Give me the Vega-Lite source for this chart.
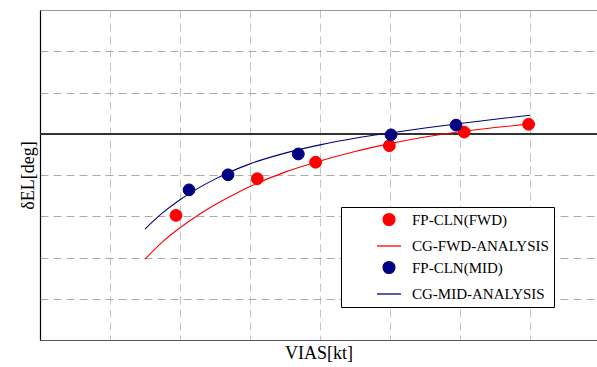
{
  "$schema": "https://vega.github.io/schema/vega-lite/v6.json",
  "width": 557,
  "height": 330,
  "autosize": {"type": "none"},
  "padding": {"left": 40, "top": 10, "right": 0, "bottom": 27},
  "background": "white",
  "config": {"view": {"stroke": null}, "font": "Liberation Serif"},
  "data": {
    "values": [
      {"v": 1.5, "d": -3.04, "series": "CG-FWD-ANALYSIS", "kind": "line"},
      {"v": 1.75, "d": -2.62, "series": "CG-FWD-ANALYSIS", "kind": "line"},
      {"v": 2.0, "d": -2.28, "series": "CG-FWD-ANALYSIS", "kind": "line"},
      {"v": 2.25, "d": -1.98, "series": "CG-FWD-ANALYSIS", "kind": "line"},
      {"v": 2.5, "d": -1.72, "series": "CG-FWD-ANALYSIS", "kind": "line"},
      {"v": 2.75, "d": -1.49, "series": "CG-FWD-ANALYSIS", "kind": "line"},
      {"v": 3.0, "d": -1.28, "series": "CG-FWD-ANALYSIS", "kind": "line"},
      {"v": 3.5, "d": -0.93, "series": "CG-FWD-ANALYSIS", "kind": "line"},
      {"v": 4.0, "d": -0.66, "series": "CG-FWD-ANALYSIS", "kind": "line"},
      {"v": 4.5, "d": -0.43, "series": "CG-FWD-ANALYSIS", "kind": "line"},
      {"v": 5.0, "d": -0.24, "series": "CG-FWD-ANALYSIS", "kind": "line"},
      {"v": 5.5, "d": -0.08, "series": "CG-FWD-ANALYSIS", "kind": "line"},
      {"v": 6.0, "d": 0.05, "series": "CG-FWD-ANALYSIS", "kind": "line"},
      {"v": 6.5, "d": 0.15, "series": "CG-FWD-ANALYSIS", "kind": "line"},
      {"v": 7.0, "d": 0.24, "series": "CG-FWD-ANALYSIS", "kind": "line"},
      {"v": 1.5, "d": -2.31, "series": "CG-MID-ANALYSIS", "kind": "line"},
      {"v": 1.75, "d": -1.92, "series": "CG-MID-ANALYSIS", "kind": "line"},
      {"v": 2.0, "d": -1.6, "series": "CG-MID-ANALYSIS", "kind": "line"},
      {"v": 2.25, "d": -1.33, "series": "CG-MID-ANALYSIS", "kind": "line"},
      {"v": 2.5, "d": -1.1, "series": "CG-MID-ANALYSIS", "kind": "line"},
      {"v": 2.75, "d": -0.9, "series": "CG-MID-ANALYSIS", "kind": "line"},
      {"v": 3.0, "d": -0.73, "series": "CG-MID-ANALYSIS", "kind": "line"},
      {"v": 3.5, "d": -0.47, "series": "CG-MID-ANALYSIS", "kind": "line"},
      {"v": 4.0, "d": -0.27, "series": "CG-MID-ANALYSIS", "kind": "line"},
      {"v": 4.5, "d": -0.11, "series": "CG-MID-ANALYSIS", "kind": "line"},
      {"v": 5.0, "d": 0.02, "series": "CG-MID-ANALYSIS", "kind": "line"},
      {"v": 5.5, "d": 0.14, "series": "CG-MID-ANALYSIS", "kind": "line"},
      {"v": 6.0, "d": 0.25, "series": "CG-MID-ANALYSIS", "kind": "line"},
      {"v": 6.5, "d": 0.35, "series": "CG-MID-ANALYSIS", "kind": "line"},
      {"v": 7.0, "d": 0.45, "series": "CG-MID-ANALYSIS", "kind": "line"},
      {"v": 1.943, "d": -1.98, "series": "FP-CLN(FWD)", "kind": "point"},
      {"v": 3.104, "d": -1.09, "series": "FP-CLN(FWD)", "kind": "point"},
      {"v": 3.937, "d": -0.69, "series": "FP-CLN(FWD)", "kind": "point"},
      {"v": 4.99, "d": -0.29, "series": "FP-CLN(FWD)", "kind": "point"},
      {"v": 6.06, "d": 0.04, "series": "FP-CLN(FWD)", "kind": "point"},
      {"v": 6.98, "d": 0.23, "series": "FP-CLN(FWD)", "kind": "point"},
      {"v": 2.129, "d": -1.36, "series": "FP-CLN(MID)", "kind": "point"},
      {"v": 2.686, "d": -0.995, "series": "FP-CLN(MID)", "kind": "point"},
      {"v": 3.69, "d": -0.49, "series": "FP-CLN(MID)", "kind": "point"},
      {"v": 5.014, "d": -0.027, "series": "FP-CLN(MID)", "kind": "point"},
      {"v": 5.943, "d": 0.21, "series": "FP-CLN(MID)", "kind": "point"}
    ]
  },
  "layer": [
    {
      "mark": {"type": "rule", "color": "#333333", "strokeWidth": 1.3},
      "encoding": {"y": {"datum": 0, "type": "quantitative"}}
    },
    {
      "transform": [{"filter": "datum.kind == 'line'"}],
      "mark": {"type": "line", "strokeWidth": 1.1, "interpolate": "monotone"},
      "encoding": {
        "x": {
          "field": "v", "type": "quantitative",
          "scale": {"domain": [0, 7.957], "nice": false, "zero": false},
          "axis": {
            "values": [1, 2, 3, 4, 5, 6, 7], "labels": false, "ticks": false,
            "grid": true, "gridDash": [8, 5], "gridColor": "#c4c4c4", "gridWidth": 1,
            "domainColor": "#555555", "domainWidth": 1.2,
            "title": "VIAS[kt]", "titleFont": "Liberation Serif, Times New Roman, serif", "titleFontSize": 18,
            "titleFontWeight": "normal", "titleColor": "black", "titlePadding": 4
          }
        },
        "y": {
          "field": "d", "type": "quantitative",
          "scale": {"domain": [-5, 3], "nice": false, "zero": false},
          "axis": {
            "values": [-5, -4, -3, -2, -1, 0, 1, 2, 3], "labels": false, "ticks": false,
            "grid": true,
            "gridDash": {"condition": {"test": "datum.value == 3", "value": []}, "value": [8, 5]},
            "gridColor": {"condition": {"test": "datum.value == 3", "value": "#999999"}, "value": "#aaaaaa"},
            "domainColor": "black", "domainWidth": 1.2,
            "title": "δEL[deg]", "titleFont": "Liberation Serif, Times New Roman, serif", "titleFontSize": 18,
            "titleFontWeight": "normal", "titleColor": "black", "titlePadding": 3
          }
        },
        "stroke": {
          "field": "series", "type": "nominal",
          "scale": {
            "domain": ["FP-CLN(FWD)", "CG-FWD-ANALYSIS", "FP-CLN(MID)", "CG-MID-ANALYSIS"],
            "range": ["#ff0000", "#ff0000", "#000080", "#000080"]
          },
          "legend": {
            "orient": "none", "legendX": 301, "legendY": 197,
            "title": null,
            "fillColor": "white", "strokeColor": "black", "padding": 5, "rowPadding": 4,
            "labelFont": "Liberation Serif, Times New Roman, serif", "labelFontSize": 15, "labelColor": "black",
            "labelLimit": 300, "symbolOffset": 30, "labelOffset": 10, "symbolStrokeWidth": 1.3
          }
        }
      }
    },
    {
      "transform": [{"filter": "datum.kind == 'point'"}],
      "mark": {"type": "point", "filled": true, "strokeWidth": 1, "opacity": 1},
      "encoding": {
        "x": {"field": "v", "type": "quantitative"},
        "y": {"field": "d", "type": "quantitative"},
        "stroke": {"field": "series", "type": "nominal"},
        "fill": {
          "field": "series", "type": "nominal",
          "scale": {
            "domain": ["FP-CLN(FWD)", "CG-FWD-ANALYSIS", "FP-CLN(MID)", "CG-MID-ANALYSIS"],
            "range": ["#ff0000", "transparent", "#000080", "transparent"]
          }
        },
        "shape": {
          "field": "series", "type": "nominal",
          "scale": {
            "domain": ["FP-CLN(FWD)", "CG-FWD-ANALYSIS", "FP-CLN(MID)", "CG-MID-ANALYSIS"],
            "range": ["circle", "stroke", "circle", "stroke"]
          }
        },
        "size": {
          "field": "series", "type": "nominal",
          "scale": {
            "type": "ordinal",
            "domain": ["FP-CLN(FWD)", "CG-FWD-ANALYSIS", "FP-CLN(MID)", "CG-MID-ANALYSIS"],
            "range": [140, 576, 140, 576]
          }
        }
      }
    }
  ]
}
